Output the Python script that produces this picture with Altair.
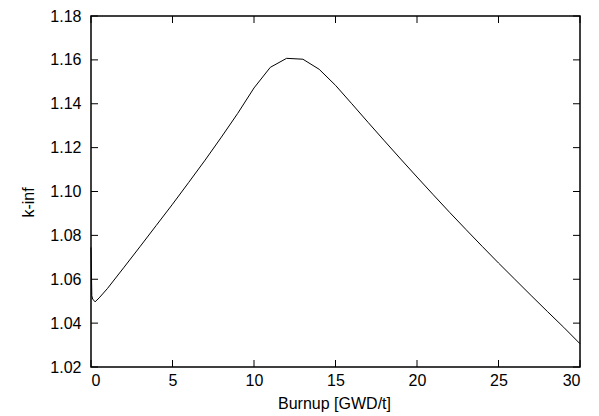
import altair as alt
import pandas as pd

burnup = [0, 0.05, 0.1, 0.25, 0.5, 1, 2, 3, 4, 5, 6, 7, 8, 9, 10, 11, 12, 13, 14, 15,
          16, 17, 18, 19, 20, 21, 22, 23, 24, 25, 26, 27, 28, 29, 30]
kinf = [1.0745, 1.0525, 1.0510, 1.0497, 1.0515, 1.0557, 1.0652, 1.0748, 1.0845, 1.0942,
        1.1042, 1.1143, 1.1248, 1.1356, 1.1472, 1.1566, 1.1607, 1.1603, 1.1557, 1.1484,
        1.1400, 1.1315, 1.1231, 1.1148, 1.1066, 1.0985, 1.0905, 1.0827, 1.0750, 1.0674,
        1.0600, 1.0526, 1.0453, 1.0381, 1.0306]
x_ticks = [0, 5, 10, 15, 20, 25, 30]
y_ticks = [1.02, 1.04, 1.06, 1.08, 1.10, 1.12, 1.14, 1.16, 1.18]

FONT = "Liberation Sans"
FS = 16
W, H = 489, 351
TL = 7

df = pd.DataFrame({"b": burnup, "k": kinf})
xt = pd.DataFrame({"x": x_ticks})
yt = pd.DataFrame({"y": y_ticks})

xs = alt.Scale(domain=[0, 30], nice=False, zero=False)
ys = alt.Scale(domain=[1.02, 1.18], nice=False, zero=False)

line = alt.Chart(df).mark_line(color="black", strokeWidth=1).encode(
    x=alt.X("b:Q", scale=xs, title="Burnup [GWD/t]",
            axis=alt.Axis(values=x_ticks, format="d", ticks=False, domain=False, grid=False,
                          labelPadding=5, labelFontSize=FS, labelFont=FONT,
                          titleFont=FONT, titleFontSize=FS, titleFontWeight="normal",
                          titleX=243, titleY=36, titleBaseline="middle", titleAnchor="start",
                          titleAlign="center")),
    y=alt.Y("k:Q", scale=ys, title="k-inf",
            axis=alt.Axis(values=y_ticks, format=".2f", ticks=False, domain=False, grid=False,
                          labelPadding=10, labelFontSize=FS, labelFont=FONT,
                          titleFont=FONT, titleFontSize=FS, titleFontWeight="normal",
                          titleX=-55, titleY=186, titleBaseline="bottom", titleAlign="center",
                          titleAngle=270)),
)

xb = alt.Chart(xt).mark_rule(color="black", strokeWidth=1).encode(
    x=alt.X("x:Q", scale=xs), y=alt.value(H), y2=alt.value(H - TL))
xtp = alt.Chart(xt).mark_rule(color="black", strokeWidth=1).encode(
    x=alt.X("x:Q", scale=xs), y=alt.value(0), y2=alt.value(TL))
yl = alt.Chart(yt).mark_rule(color="black", strokeWidth=1).encode(
    y=alt.Y("y:Q", scale=ys), x=alt.value(0), x2=alt.value(TL))
yr = alt.Chart(yt).mark_rule(color="black", strokeWidth=1).encode(
    y=alt.Y("y:Q", scale=ys), x=alt.value(W), x2=alt.value(W - TL))

chart = alt.layer(line, xb, xtp, yl, yr).properties(
    width=W, height=H,
    autosize=alt.AutoSizeParams(type="none"),
    padding={"left": 91, "top": 16, "right": 19, "bottom": 49},
    background="white",
).configure_view(stroke="black", strokeWidth=1.5)

chart.save("out.html", embed_options={"renderer": "svg", "actions": False})
